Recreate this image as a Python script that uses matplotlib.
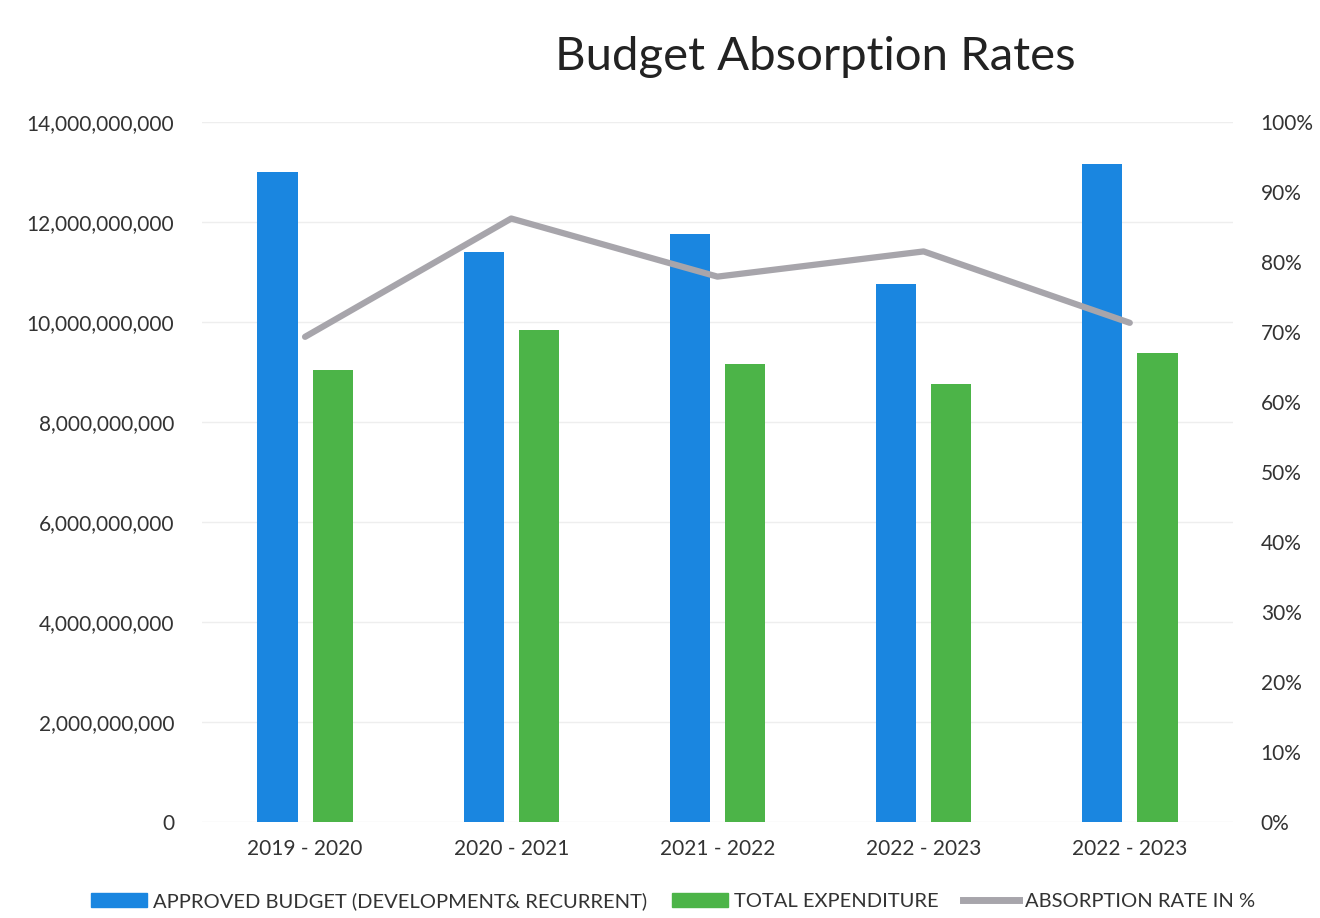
import numpy as np
import matplotlib
matplotlib.use('Agg')
import matplotlib.pyplot as plt
from matplotlib.ticker import FuncFormatter, PercentFormatter
from matplotlib.lines import Line2D
from matplotlib.patches import Patch

# --- Data ---
years = ['2019 - 2020', '2020 - 2021', '2021 - 2022', '2022 - 2023', '2022 - 2023']
approved_budget = [13.00e9, 11.40e9, 11.75e9, 10.75e9, 13.15e9]
total_expenditure = [9.03e9, 9.84e9, 9.16e9, 8.76e9, 9.38e9]
absorption_rate = [69.3, 86.2, 77.9, 81.5, 71.3]

BLUE = '#1A86E0'
GREEN = '#4CB448'
GREY = '#A7A5AB'

plt.rcParams['font.family'] = ['Lato', 'DejaVu Sans']

fig = plt.figure(figsize=(13.2, 9.18), dpi=100)
ax = fig.add_axes([0.153, 0.1046, 0.781, 0.7626])
ax2 = ax.twinx()

x = np.arange(len(years))
w = 0.195
off = 0.134
ax.bar(x - off, approved_budget, width=w, color=BLUE, zorder=2)
ax.bar(x + off, total_expenditure, width=w, color=GREEN, zorder=2)

ax.set_xlim(-0.5, len(years) - 0.5)
ax.set_ylim(0, 14e9)
ax.set_yticks(np.arange(0, 14.01e9, 2e9))
ax.yaxis.set_major_formatter(FuncFormatter(lambda v, p: f"{v:,.0f}"))
ax.grid(axis='y', color='#EEEEEE', linewidth=1, zorder=0)
ax.set_xticks(x)
ax.set_xticklabels(years)

ax2.plot(x, absorption_rate, color=GREY, linewidth=4.5, solid_capstyle='round', zorder=3)
ax2.set_ylim(0, 100)
ax2.set_yticks(np.arange(0, 101, 10))
ax2.yaxis.set_major_formatter(PercentFormatter(decimals=0))

for a in (ax, ax2):
    for s in a.spines.values():
        s.set_visible(False)
    a.tick_params(length=0, labelsize=15, colors='#333333')
ax.tick_params(axis='y', pad=20)
ax.tick_params(axis='x', pad=12)
ax2.tick_params(axis='y', pad=20)

fig.text(0.618, 0.938, 'Budget Absorption Rates', ha='center', va='center',
         fontsize=34, color='#222222')

handles = [
    Patch(color=BLUE, label='APPROVED BUDGET (DEVELOPMENT& RECURRENT)'),
    Patch(color=GREEN, label='TOTAL EXPENDITURE'),
    Line2D([0], [0], color=GREY, linewidth=5, label='ABSORPTION RATE IN %'),
]
fig.legend(handles=handles, loc='center', bbox_to_anchor=(0.510, 0.018), ncol=3,
           frameon=False, fontsize=14.5, handlelength=2.8, handletextpad=0.3,
           columnspacing=1.2, labelcolor='#333333')

fig.savefig('out.png', dpi=100)
